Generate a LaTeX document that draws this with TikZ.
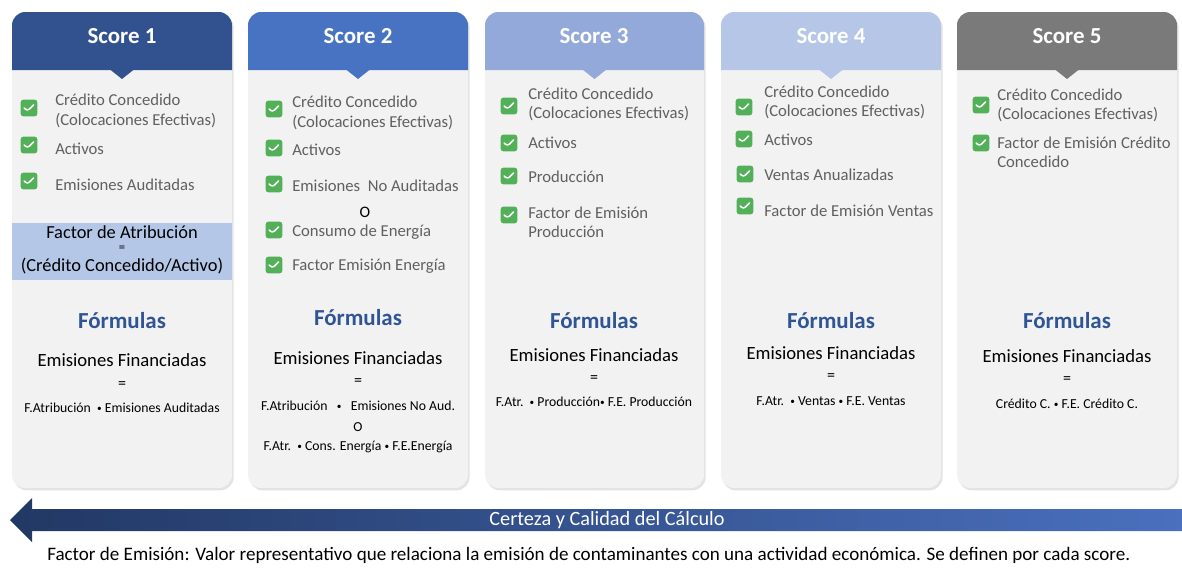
\documentclass[tikz,border=0pt]{standalone}
\usepackage{fontspec}
\setmainfont{Carlito}
\usetikzlibrary{shadows}
\definecolor{hA}{RGB}{50,82,143}
\definecolor{hB}{RGB}{72,114,194}
\definecolor{hC}{RGB}{146,169,218}
\definecolor{hD}{RGB}{181,198,230}
\definecolor{hE}{RGB}{122,122,122}
\definecolor{cardbg}{RGB}{242,242,242}
\definecolor{fabox}{RGB}{180,199,231}
\definecolor{formblue}{RGB}{47,85,151}
\definecolor{ckgreen}{RGB}{82,176,88}
\definecolor{itemgray}{RGB}{96,96,96}
\definecolor{arrL}{RGB}{34,56,100}
\definecolor{arrR}{RGB}{74,112,190}
\newcommand{\smbul}{\raisebox{0.9pt}{\fontsize{7}{8}\selectfont•}}
\tikzset{
  cardstyle/.style={fill=cardbg, rounded corners=10, drop shadow={opacity=0.22, shadow xshift=1.2pt, shadow yshift=-1.8pt}},
  hdrtext/.style={text=white, font=\fontsize{17.2}{20}\selectfont\bfseries, inner sep=0pt},
  ckbox/.style={rectangle, rounded corners=2pt, fill=ckgreen, minimum size=12.5pt, inner sep=0pt,
    path picture={\draw[white, line width=1.1pt, line cap=round, line join=round]
      ([xshift=-3.6pt,yshift=0pt]path picture bounding box.center) -- ([xshift=-1.2pt,yshift=-2.3pt]path picture bounding box.center) -- ([xshift=3.4pt,yshift=2.3pt]path picture bounding box.center);}},
  itemtext/.style={anchor=west, align=left, text=itemgray, inner sep=0pt, font=\fontsize{12.5}{14.5}\selectfont},
  fatext/.style={text=black, inner sep=0pt, font=\fontsize{13.8}{15}\selectfont},
  faeq/.style={text=black, inner sep=0pt, font=\fontsize{9.5}{10}\selectfont},
  formtitle/.style={text=formblue, inner sep=0pt, font=\fontsize{17.2}{20}\selectfont\bfseries},
  eftext/.style={text=black, inner sep=0pt, font=\fontsize{14}{16}\selectfont},
  eqtext/.style={text=black, inner sep=0pt, font=\fontsize{12}{14}\selectfont},
  fmtext/.style={text=black, inner sep=0pt, font=\fontsize{10.3}{12}\selectfont},
  otext/.style={text=black, inner sep=0pt, font=\fontsize{12}{14}\selectfont},
}
\begin{document}
\begin{tikzpicture}[x=0.75pt,y=-0.75pt]
\useasboundingbox (0,0) rectangle (1182,569);
\fill[white] (0,0) rectangle (1182,569);

% ---------- cards ----------
\foreach \xa/\xb/\col in {12/232/hA, 248/468/hB, 485/704/hC, 721/941/hD, 957/1177/hE}{
  \path[cardstyle] (\xa,12) rectangle (\xb,488);
  \fill[\col] (\xa,70) {[rounded corners=10] -- (\xa,12) -- (\xb,12)} -- (\xb,70) -- cycle;
  \fill[\col] ({(\xa+\xb)/2-12},69.5) -- ({(\xa+\xb)/2},79) -- ({(\xa+\xb)/2+12},69.5) -- cycle;
}

% ---------- headers ----------
\node[hdrtext] (h1) at (122,36) {Score 1};
\node[hdrtext] (h2) at (358,36) {Score 2};
\node[hdrtext] (h3) at (594,36) {Score 3};
\node[hdrtext] (h4) at (831,36) {Score 4};
\node[hdrtext] (h5) at (1067,36) {Score 5};

% ---------- card 1 ----------
\node[ckbox] (c1a) at (29,108) {};
\node[ckbox] (c1b) at (29,145) {};
\node[ckbox] (c1c) at (29,181) {};
\node[itemtext] (t1a) at (55,111) {Crédito Concedido\\(Colocaciones Efectivas)};
\node[itemtext] (t1b) at (55,149) {Activos};
\node[itemtext] (t1c) at (55,185) {Emisiones Auditadas};
\fill[fabox] (12,223) rectangle (232,280);
\node[fatext] (fa1) at (122,232) {Factor de Atribución};
\node[faeq] (fa2) at (122,248.5) {=};
\node[fatext] (fa3) at (122,266) {(Crédito Concedido/Activo)};
\node[formtitle] (f1) at (122,321) {Fórmulas};
\node[eftext] (e1) at (122,360) {Emisiones Financiadas};
\node[eqtext] (q1) at (122,385) {=};
\node[fmtext] (m1) at (122,408) {F.Atribución\ \ \smbul\ Emisiones Auditadas};

% ---------- card 2 ----------
\node[ckbox] (c2a) at (274,109) {};
\node[ckbox] (c2b) at (274,148) {};
\node[ckbox] (c2c) at (274,184) {};
\node[ckbox] (c2d) at (274,230) {};
\node[ckbox] (c2e) at (274,265) {};
\node[itemtext] (t2a) at (292,113) {Crédito Concedido\\(Colocaciones Efectivas)};
\node[itemtext] (t2b) at (292,150) {Activos};
\node[itemtext] (t2c) at (292,186) {Emisiones\ \ No Auditadas};
\node[otext] (o2) at (365,212) {O};
\node[itemtext] (t2d) at (292,232) {Consumo de Energía};
\node[itemtext] (t2e) at (292,266) {Factor Emisión Energía};
\node[formtitle] (f2) at (358,318) {Fórmulas};
\node[eftext] (e2) at (358,358) {Emisiones Financiadas};
\node[eqtext] (q2) at (358,382) {=};
\node[fmtext] (m2a) at (358,406) {F.Atribución\ \ \ \smbul\ \ \ Emisiones No Aud.};
\node[fmtext] (m2o) at (358,427) {O};
\node[fmtext] (m2b) at (358,447) {F.Atr.\ \ \smbul\ Cons. Energía \smbul\ F.E.Energía};

% ---------- card 3 ----------
\node[ckbox] (c3a) at (509,106) {};
\node[ckbox] (c3b) at (509,143) {};
\node[ckbox] (c3c) at (509,176) {};
\node[ckbox] (c3d) at (509,215) {};
\node[itemtext] (t3a) at (528,104.5) {Crédito Concedido\\(Colocaciones Efectivas)};
\node[itemtext] (t3b) at (528,143) {Activos};
\node[itemtext] (t3c) at (528,177) {Producción};
\node[itemtext] (t3d) at (528,222.5) {Factor de Emisión\\Producción};
\node[formtitle] (f3) at (594,321) {Fórmulas};
\node[eftext] (e3) at (594,355) {Emisiones Financiadas};
\node[eqtext] (q3) at (594,379) {=};
\node[fmtext] (m3) at (594,402) {F.Atr.\ \ \smbul\ Producción\smbul\ F.E. Producción};

% ---------- card 4 ----------
\node[ckbox] (c4a) at (744,107) {};
\node[ckbox] (c4b) at (744,139) {};
\node[ckbox] (c4c) at (745,174) {};
\node[ckbox] (c4d) at (745,206) {};
\node[itemtext] (t4a) at (764,102.5) {Crédito Concedido\\(Colocaciones Efectivas)};
\node[itemtext] (t4b) at (764,140) {Activos};
\node[itemtext] (t4c) at (764,175) {Ventas Anualizadas};
\node[itemtext] (t4d) at (764,211) {Factor de Emisión Ventas};
\node[formtitle] (f4) at (831,321) {Fórmulas};
\node[eftext] (e4) at (831,353) {Emisiones Financiadas};
\node[eqtext] (q4) at (831,377) {=};
\node[fmtext] (m4) at (831,401) {F.Atr.\ \ \smbul\ Ventas \smbul\ F.E. Ventas};

% ---------- card 5 ----------
\node[ckbox] (c5a) at (981,105) {};
\node[ckbox] (c5b) at (981,143) {};
\node[itemtext] (t5a) at (997,105.5) {Crédito Concedido\\(Colocaciones Efectivas)};
\node[itemtext] (t5b) at (997,152.5) {Factor de Emisión Crédito\\Concedido};
\node[formtitle] (f5) at (1067,321) {Fórmulas};
\node[eftext] (e5) at (1067,356) {Emisiones Financiadas};
\node[eqtext] (q5) at (1067,380) {=};
\node[fmtext] (m5) at (1067,404) {Crédito C. \smbul\ F.E. Crédito C.};

% ---------- arrow ----------
\shade[left color=arrL, right color=arrR]
  (10,520) -- (32,498) -- (32,509) -- (1182,509) -- (1182,531) -- (32,531) -- (32,542) -- cycle;
\node[text=white, inner sep=0pt, font=\fontsize{15.2}{17}\selectfont] (arrtext) at (607,520) {Certeza y Calidad del Cálculo};

% ---------- footnote ----------
\node[anchor=west, inner sep=0pt, text=black, font=\fontsize{14.3}{16}\selectfont] (foot) at (47,555)
  {Factor de Emisión: Valor representativo que relaciona la emisión de contaminantes con una actividad económica. Se definen por cada score.};
\end{tikzpicture}
\end{document}
